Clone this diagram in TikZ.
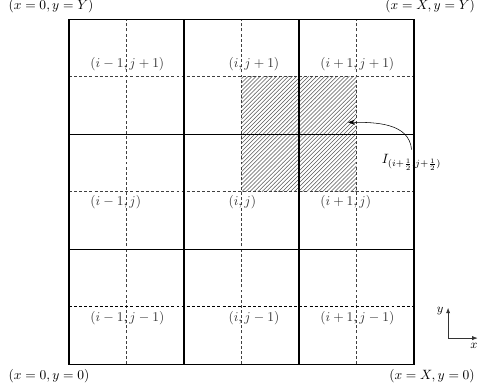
\documentclass[tikz,border=0pt]{standalone}
\usepackage{amsmath, amssymb}
\usepackage{xcolor}
\usepackage{tikz}
\usetikzlibrary{arrows.meta,patterns}

\begin{document}
\begin{tikzpicture}[
  cella/.style={line width=0.9pt},
  mezza/.style={dash pattern=on 2.2pt off 1.6pt, line width=0.4pt, black!75},
  etich/.style={text=black!80}
]
\useasboundingbox (-1.80,-0.65) rectangle (10.67,9.50);

% --- CELLA TRATTEGGIATA ---
\fill[pattern=north east lines, pattern color=black!65] (4.5,4.5) rectangle (7.5,7.5);

% --- LINEE TRATTEGGIATE (centri delle celle) ---
\foreach \x in {1.5,4.5,7.5} {
    \draw[mezza] (\x,0) -- (\x,9);
}
\foreach \y in {4.5,7.5} {
    \draw[mezza] (0,\y) -- (9,\y);
}
\draw[mezza, line width=0.8pt, black] (0,1.5) -- (9,1.5);

% --- GRIGLIA PRINCIPALE ---
\draw[cella] (0,0) rectangle (9,9);
\foreach \x in {3,6} {
    \draw[cella] (\x,0) -- (\x,9);
    \draw[cella] (0,\x) -- (9,\x);
}

% --- INDICI DEI NODI ---
\foreach \x/\p [count=\n] in {1.5/i-1, 4.5/i, 7.5/i+1} {
    \foreach \y/\q [count=\m] in {7.82/j+1, 4.22/j, 1.2/j-1} {
        \node[etich] (n\n\m) at (\x,\y) {$\llap{$(\p$},\rlap{$\q)$}$};
    }
}

% --- ANGOLI DEL DOMINIO ---
\node (tl) at (-0.47,9.34) {$(x=0,y=Y)$};
\node (tr) at (9.42,9.34) {$(x=X,y=Y)$};
\node (bl) at (-0.52,-0.32) {$(x=0,y=0)$};
\node (br) at (9.47,-0.30) {$(x=X,y=0)$};

% --- INTEGRALE SULLA CELLA ---
\node[anchor=west] (ilab) at (8.04,5.27) {$I_{(i+\frac{1}{2},j+\frac{1}{2})}$};
\coordinate (tip) at (7.28,6.31);
\draw[-{Stealth[length=5pt]}] (ilab.north) to[out=95,in=0] (tip);

% --- ASSI ---
\coordinate (o) at (9.89,0.68);
\coordinate (ay) at (9.89,1.47);
\coordinate (ax) at (10.66,0.68);
\draw[-{Latex[length=4pt]}, black!80] (o) -- (ay);
\draw[-{Latex[length=4pt]}, black!80] (o) -- (ax);
\node[left, font=\small] (ylab) at (9.89,1.38) {$y$};
\node[below, font=\small] (xlab) at (10.56,0.68) {$x$};

\end{tikzpicture}
\end{document}
